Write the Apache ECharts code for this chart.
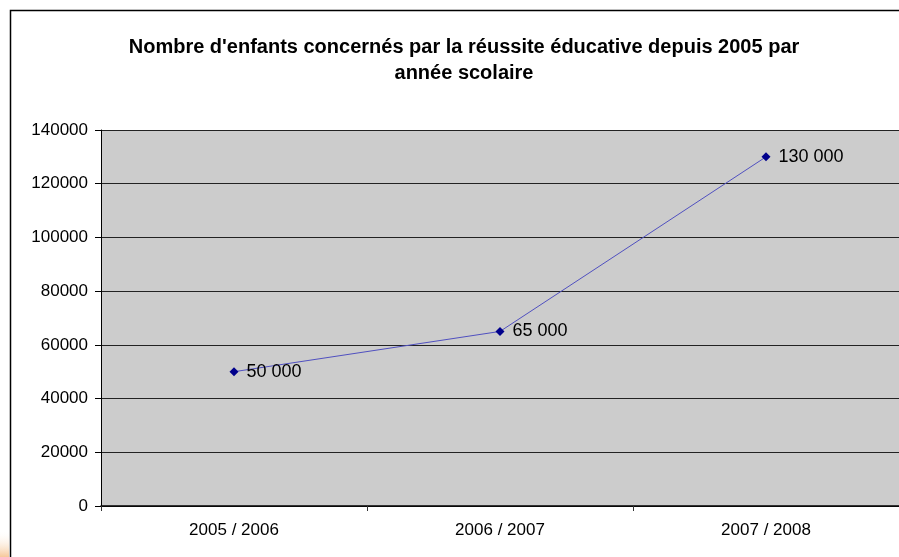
<!DOCTYPE html>
<html><head><meta charset="utf-8">
<script src="https://cdn.jsdelivr.net/npm/echarts@6/dist/echarts.min.js"></script>
<style>html,body{margin:0;padding:0;background:#fff}#c{width:899px;height:557px}</style>
</head><body><div id="c"></div>
<script>
const titleText = "Nombre d'enfants concernés par la réussite éducative depuis 2005 par\nannée scolaire";
const categories = ["2005 / 2006", "2006 / 2007", "2007 / 2008"];
const values = [50000, 65000, 130000];
const valueLabels = ["50 000", "65 000", "130 000"];
const yMin = 0, yMax = 140000, yInterval = 20000;

const chart = echarts.init(document.getElementById('c'), null, {renderer:'canvas'});
chart.setOption({
  animation:false,
  backgroundColor:'#fff',
  title:{text:titleText,left:459,textAlign:'center',top:29,
    textStyle:{fontFamily:'Liberation Sans, Arial',fontWeight:'bold',fontSize:20,color:'#000',lineHeight:26}},
  graphic:[
    {type:'rect',shape:{x:10.5,y:10.5,width:900,height:560},style:{fill:null,stroke:'#000',lineWidth:1.5},z:-1},
    {type:'rect',shape:{x:0,y:530,width:9,height:27},style:{fill:new echarts.graphic.LinearGradient(0,0,0,1,[{offset:0,color:'rgba(255,255,255,0)'},{offset:1,color:'#f6c89a'}])},z:-1}
  ],
  grid:{left:101,right:-4,top:130,bottom:51,show:true,backgroundColor:'#cccccc',borderWidth:0},
  xAxis:{type:'category',data:categories,boundaryGap:true,
    axisLine:{lineStyle:{color:'#000',width:1.5}},
    axisTick:{show:true,length:5,lineStyle:{color:'#333'}},
    axisLabel:{color:'#000',fontFamily:'Liberation Sans, Arial',fontSize:17,margin:16}},
  yAxis:{type:'value',min:yMin,max:yMax,interval:yInterval,
    axisLine:{show:true,lineStyle:{color:'#000',width:1}},
    axisTick:{show:true,length:6,lineStyle:{color:'#000'}},
    splitLine:{lineStyle:{color:'#222',width:1}},
    axisLabel:{color:'#000',fontFamily:'Liberation Sans, Arial',fontSize:17,margin:13,formatter:v=>String(v)}},
  series:[{type:'line',data:values,symbol:'diamond',symbolSize:9,
    itemStyle:{color:'#00008b'},lineStyle:{color:'#5050c0',width:1},
    label:{show:true,position:'right',distance:8,color:'#000',fontFamily:'Liberation Sans, Arial',fontSize:18,
      formatter:p=>valueLabels[p.dataIndex]}}]
});
</script></body></html>
